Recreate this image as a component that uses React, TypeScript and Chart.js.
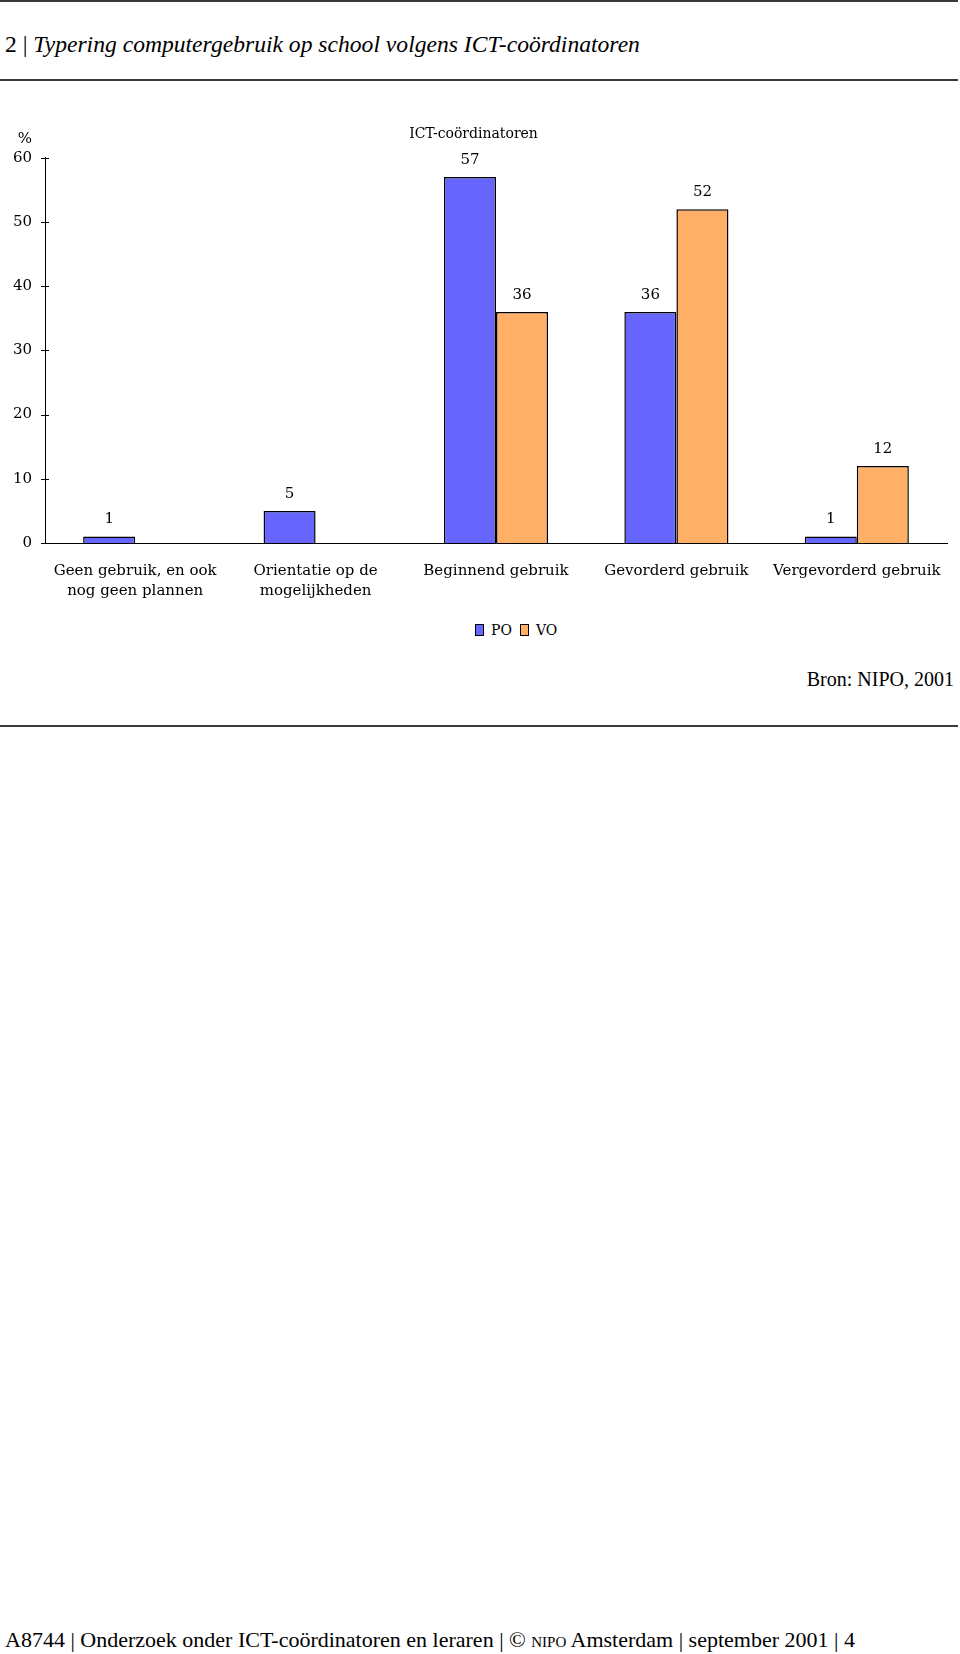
import React, { useEffect, useRef } from "react";
import { Chart, registerables } from "chart.js";

Chart.register(...registerables);

const categories: (string | string[])[] = [
  ["Geen gebruik, en ook", "nog geen plannen"],
  ["Orientatie op de", "mogelijkheden"],
  "Beginnend gebruik",
  "Gevorderd gebruik",
  "Vergevorderd gebruik",
];
const poValues: (number | null)[] = [1, 5, 57, 36, 1];
const voValues: (number | null)[] = [null, null, 36, 52, 12];
const seriesNames = ["PO", "VO"];
const seriesColors = ["#6666FF", "#FFB066"];
const yMin = 0;
const yMax = 60;
const yStep = 10;

const chartTitle = "ICT-coördinatoren";
const yUnit = "%";
const pageTitleNum = "2 |";
const pageTitle = "Typering computergebruik op school volgens ICT-coördinatoren";
const sourceText = "Bron: NIPO, 2001";

const CHART_FONT = "'DejaVu Serif', serif";
const PAGE_FONT = "'Liberation Serif', serif";

const extrasPlugin = {
  id: "extras",
  afterDatasetsDraw(chart: any) {
    const ctx = chart.ctx;
    ctx.save();
    ctx.fillStyle = "#000";
    ctx.font = `15px ${CHART_FONT}`;
    ctx.textAlign = "center";
    ctx.textBaseline = "middle";
    chart.data.datasets.forEach((ds: any, di: number) => {
      const meta = chart.getDatasetMeta(di);
      meta.data.forEach((bar: any, i: number) => {
        const v = ds.data[i];
        if (v === null || v === undefined) return;
        ctx.fillText(String(v), bar.x, bar.y - 17);
      });
    });
    // y tick marks crossing the axis
    const ys = chart.scales.y;
    const axisX = ys.right;
    ctx.strokeStyle = "#000";
    ctx.lineWidth = 1;
    ys.ticks.forEach((t: any) => {
      const y = Math.round(ys.getPixelForValue(t.value)) + 0.5;
      ctx.beginPath();
      ctx.moveTo(axisX - 4, y);
      ctx.lineTo(axisX + 4, y);
      ctx.stroke();
    });
    // unit label
    ctx.font = `15px ${CHART_FONT}`;
    ctx.textAlign = "center";
    ctx.fillText(yUnit, axisX - 20, ys.top - 19);
    ctx.restore();
  },
};

function BarChart() {
  const ref = useRef<HTMLCanvasElement>(null);
  useEffect(() => {
    if (!ref.current) return;
    const chart = new Chart(ref.current, {
      type: "bar",
      data: {
        labels: categories,
        datasets: [
          {
            label: seriesNames[0],
            data: poValues,
            backgroundColor: seriesColors[0],
            borderColor: "#000",
            borderWidth: 1.5,
            barPercentage: 1,
            categoryPercentage: 0.577,
          },
          {
            label: seriesNames[1],
            data: voValues,
            backgroundColor: seriesColors[1],
            borderColor: "#000",
            borderWidth: 1.5,
            barPercentage: 1,
            categoryPercentage: 0.577,
          },
        ],
      },
      options: {
        animation: false,
        responsive: false,
        maintainAspectRatio: false,
        layout: { padding: { left: 0, right: 13, top: 0, bottom: 0 } },
        plugins: {
          legend: { display: false },
          tooltip: { enabled: false },
          title: {
            display: true,
            text: chartTitle,
            color: "#000",
            font: { family: CHART_FONT, size: 14, weight: "normal" },
            padding: { top: 26, bottom: 15 },
          },
        },
        scales: {
          x: {
            grid: { display: false, drawTicks: false },
            border: { display: true, color: "#000", width: 1 },
            ticks: {
              color: "#000",
              font: { family: CHART_FONT, size: 15, lineHeight: 1.35 },
              padding: 18,
              maxRotation: 0,
              autoSkip: false,
            },
            afterFit(scale: any) {
              scale.height = 67;
            },
          },
          y: {
            min: yMin,
            max: yMax,
            grid: { display: false, drawTicks: false },
            border: { display: true, color: "#000", width: 1 },
            ticks: {
              stepSize: yStep,
              color: "#000",
              font: { family: CHART_FONT, size: 15 },
              padding: 13,
            },
            afterFit(scale: any) {
              scale.width = 45;
            },
          },
        },
      },
      plugins: [extrasPlugin],
    });
    return () => chart.destroy();
  }, []);
  return (
    <canvas
      ref={ref}
      width={960}
      height={510}
      style={{ position: "absolute", left: 0, top: 100, width: 960, height: 510 }}
    />
  );
}

function LegendBox({ color }: { color: string }) {
  return (
    <span
      style={{
        display: "inline-block",
        width: 7,
        height: 10,
        background: color,
        border: "1px solid #000",
        marginRight: 7,
      }}
    />
  );
}

export default function App() {
  const rule = (top: number) => (
    <div style={{ position: "absolute", left: 0, top, width: 958, height: 2, background: "#3a3a3a" }} />
  );
  return (
    <div
      style={{
        position: "absolute",
        left: 0,
        top: 0,
        width: 960,
        height: 1654,
        background: "#fff",
        color: "#000",
        overflow: "hidden",
      }}
    >
      {rule(0)}
      <div
        style={{
          position: "absolute",
          left: 5,
          top: 28,
          fontFamily: PAGE_FONT,
          fontSize: 23.6,
          lineHeight: "32px",
          whiteSpace: "nowrap",
        }}
      >
        <span>{pageTitleNum} </span>
        <span style={{ fontStyle: "italic" }}>{pageTitle}</span>
      </div>
      {rule(79)}
      <BarChart />
      <div
        style={{
          position: "absolute",
          left: 475,
          top: 620,
          height: 20,
          display: "flex",
          alignItems: "center",
          fontFamily: CHART_FONT,
          fontSize: 14,
          whiteSpace: "nowrap",
        }}
      >
        <LegendBox color={seriesColors[0]} />
        <span style={{ marginRight: 8 }}>{seriesNames[0]}</span>
        <LegendBox color={seriesColors[1]} />
        <span>{seriesNames[1]}</span>
      </div>
      <div
        style={{
          position: "absolute",
          right: 6,
          top: 666,
          fontFamily: PAGE_FONT,
          fontSize: 20,
          lineHeight: "26px",
          whiteSpace: "nowrap",
        }}
      >
        {sourceText}
      </div>
      {rule(725)}
      <div
        style={{
          position: "absolute",
          left: 5,
          top: 1626,
          fontFamily: PAGE_FONT,
          fontSize: 22,
          lineHeight: "28px",
          whiteSpace: "nowrap",
        }}
      >
        A8744 | Onderzoek onder ICT-coördinatoren en leraren | ©{" "}
        <span style={{ fontVariant: "small-caps" }}>nipo</span> Amsterdam | september 2001 | 4
      </div>
    </div>
  );
}
